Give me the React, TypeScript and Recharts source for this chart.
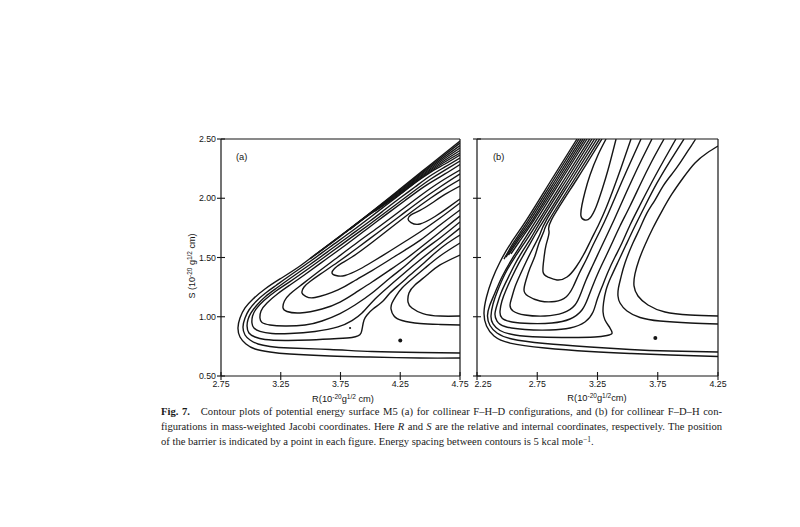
import React from "react";
import { ScatterChart, Scatter, XAxis, YAxis, ReferenceLine } from "recharts";

type Pt = [number, number];

const INK = "#151515";

// tick values
const ticksA = [2.75, 3.25, 3.75, 4.25, 4.75];
const ticksB = [2.25, 2.75, 3.25, 3.75, 4.25];
const ticksS = [0.5, 1.0, 1.5, 2.0, 2.5];

// ---- panel (a): collinear F-H-D, contours as [R, S] ----
const aC1: Pt[] = [[4.75,2.483],[4.499,2.281],[4.248,2.078],[3.997,1.876],[3.746,1.681],[3.578,1.555],[3.411,1.428],[3.244,1.319],[3.118,1.234],[3.018,1.15],[2.951,1.074],[2.909,0.989],[2.892,0.905],[2.909,0.829],[2.959,0.77],[3.035,0.728],[3.16,0.703],[3.327,0.686],[3.662,0.669],[3.997,0.66],[4.415,0.652],[4.75,0.652]];
const aW1: Pt[] = [[4.75,2.466],[4.499,2.27],[4.248,2.07],[3.997,1.873],[3.746,1.679],[3.495,1.489]];
const aW2: Pt[] = [[4.75,2.445],[4.499,2.259],[4.248,2.061],[3.997,1.871],[3.746,1.676],[3.537,1.521]];
const aW3: Pt[] = [[4.75,2.424],[4.499,2.247],[4.248,2.053],[3.997,1.867],[3.788,1.709]];
const aW4: Pt[] = [[4.75,2.403],[4.499,2.236],[4.248,2.044],[3.997,1.865],[3.83,1.737]];
const aW5: Pt[] = [[4.75,2.382],[4.499,2.226],[4.248,2.036],[4.039,1.892]];
const aC2: Pt[] = [[4.75,2.365],[4.624,2.289],[4.499,2.217],[4.373,2.129],[4.248,2.032],[4.122,1.935],[3.997,1.838],[3.83,1.711],[3.662,1.589],[3.495,1.466],[3.327,1.348],[3.21,1.264],[3.118,1.196],[3.043,1.129],[2.984,1.057],[2.951,0.989],[2.934,0.914],[2.951,0.846],[2.993,0.804],[3.06,0.77],[3.16,0.749],[3.327,0.736],[3.662,0.724],[4.014,0.707],[4.415,0.698],[4.75,0.694]];
const aC3: Pt[] = [[4.75,2.34],[4.624,2.264],[4.499,2.188],[4.373,2.095],[4.248,2.002],[4.122,1.905],[3.997,1.808],[3.83,1.686],[3.662,1.563],[3.495,1.441],[3.327,1.323],[3.21,1.238],[3.118,1.167],[3.051,1.099],[3.001,1.032],[2.976,0.977],[2.968,0.922],[2.984,0.863],[3.035,0.829],[3.118,0.808],[3.286,0.8],[3.495,0.804],[3.729,0.816],[3.846,0.825],[3.896,0.838],[3.922,0.863],[3.934,0.914],[3.947,0.973],[3.972,1.015],[4.022,1.065],[4.106,1.133],[4.164,1.2],[4.248,1.276],[4.332,1.352],[4.415,1.424],[4.541,1.538],[4.641,1.618],[4.75,1.69]];
const aU4: Pt[] = [[4.75,2.314],[4.624,2.238],[4.499,2.158],[4.332,2.036],[4.164,1.909],[3.997,1.783],[3.83,1.661],[3.662,1.538],[3.495,1.416],[3.327,1.297],[3.21,1.217],[3.11,1.137],[3.043,1.065],[3.014,1.006],[3.009,0.947],[3.026,0.905],[3.076,0.876],[3.177,0.859],[3.327,0.859],[3.537,0.876],[3.729,0.914],[3.846,0.968],[3.93,1.032],[4.039,1.15],[4.164,1.264],[4.29,1.374],[4.415,1.479],[4.583,1.614],[4.75,1.749]];
const aU5: Pt[] = [[4.75,2.285],[4.624,2.205],[4.457,2.103],[4.29,1.981],[4.122,1.855],[3.955,1.728],[3.788,1.601],[3.62,1.479],[3.453,1.357],[3.327,1.268],[3.227,1.196],[3.135,1.116],[3.085,1.049],[3.076,0.989],[3.093,0.951],[3.16,0.93],[3.286,0.922],[3.453,0.93],[3.595,0.964],[3.746,1.027],[3.871,1.099],[4.014,1.2],[4.164,1.327],[4.29,1.428],[4.415,1.538],[4.583,1.665],[4.75,1.8]];
const aU6: Pt[] = [[4.75,2.238],[4.583,2.137],[4.415,2.019],[4.248,1.892],[4.081,1.766],[3.896,1.631],[3.729,1.504],[3.562,1.378],[3.411,1.26],[3.327,1.192],[3.281,1.133],[3.269,1.074],[3.302,1.044],[3.411,1.032],[3.595,1.065],[3.746,1.124],[3.871,1.2],[4.014,1.293],[4.164,1.395],[4.29,1.483],[4.415,1.58],[4.583,1.715],[4.75,1.85]];
const aU7: Pt[] = [[4.75,2.205],[4.583,2.095],[4.415,1.977],[4.248,1.85],[4.081,1.724],[3.896,1.584],[3.729,1.462],[3.578,1.357],[3.495,1.297],[3.445,1.251],[3.428,1.2],[3.461,1.171],[3.537,1.162],[3.729,1.226],[3.871,1.306],[4.014,1.39],[4.164,1.483],[4.29,1.563],[4.415,1.644],[4.583,1.774],[4.75,1.901]];
const aU8: Pt[] = [[4.75,2.158],[4.624,2.082],[4.499,1.998],[4.332,1.876],[4.164,1.745],[3.997,1.614],[3.846,1.504],[3.754,1.449],[3.7,1.407],[3.679,1.369],[3.712,1.348],[3.788,1.348],[3.913,1.403],[4.014,1.462],[4.164,1.555],[4.29,1.635],[4.415,1.715],[4.583,1.833],[4.75,1.96]];
const aU9: Pt[] = [[4.75,2.103],[4.624,2.032],[4.516,1.96],[4.415,1.897],[4.34,1.859],[4.315,1.825],[4.34,1.795],[4.415,1.783],[4.541,1.846],[4.641,1.914],[4.75,1.994]];
const aU1: Pt[] = [[4.75,1.622],[4.583,1.513],[4.457,1.411],[4.348,1.319],[4.265,1.243],[4.214,1.175],[4.181,1.116],[4.173,1.065],[4.198,1.006],[4.265,0.968],[4.415,0.943],[4.583,0.935],[4.75,0.93]];
const aU2: Pt[] = [[4.75,1.521],[4.583,1.437],[4.474,1.352],[4.373,1.268],[4.323,1.2],[4.315,1.124],[4.348,1.074],[4.44,1.027],[4.583,1.006],[4.75,1.006]];
const aBarrier: Pt[] = [[4.25, 0.8]];
const aSpeck: Pt[] = [[3.83, 0.905]];

// ---- panel (b): collinear F-D-H ----
const bC1: Pt[] = [[3.08,2.5],[2.867,2.154],[2.66,1.816],[2.532,1.622],[2.441,1.462],[2.374,1.31],[2.329,1.167],[2.308,1.032],[2.329,0.922],[2.391,0.838],[2.524,0.778],[2.814,0.736],[3.188,0.707],[3.52,0.69],[3.852,0.677],[4.25,0.665]];
const bW1: Pt[] = [[3.096,2.5],[2.884,2.154],[2.677,1.816],[2.557,1.631],[2.474,1.487]];
const bW2: Pt[] = [[3.113,2.5],[2.901,2.154],[2.693,1.816],[2.57,1.631],[2.491,1.504]];
const bW3: Pt[] = [[3.13,2.5],[2.917,2.154],[2.71,1.816],[2.582,1.631],[2.511,1.521]];
const bW4: Pt[] = [[3.146,2.5],[2.934,2.154],[2.723,1.816],[2.599,1.631],[2.532,1.53]];
const bC2: Pt[] = [[3.163,2.5],[2.95,2.154],[2.743,1.816],[2.64,1.648],[2.54,1.487],[2.457,1.335],[2.395,1.192],[2.354,1.091],[2.337,1.006],[2.358,0.926],[2.416,0.863],[2.54,0.812],[2.814,0.774],[3.188,0.745],[3.52,0.724],[3.852,0.711],[4.25,0.703]];
const bC3: Pt[] = [[3.184,2.5],[2.972,2.154],[2.765,1.816],[2.665,1.656],[2.565,1.504],[2.482,1.361],[2.42,1.217],[2.383,1.108],[2.366,1.006],[2.383,0.939],[2.441,0.884],[2.565,0.846],[2.773,0.829],[3.022,0.825],[3.229,0.829],[3.329,0.842],[3.37,0.859],[3.354,0.905],[3.312,0.973],[3.296,1.04],[3.3,1.116],[3.321,1.226],[3.362,1.335],[3.42,1.462],[3.486,1.605],[3.561,1.766],[3.644,1.935],[3.744,2.129],[3.852,2.314],[3.968,2.5]];
const bU4: Pt[] = [[3.204,2.5],[2.992,2.154],[2.784,1.816],[2.698,1.665],[2.623,1.546],[2.557,1.428],[2.499,1.31],[2.449,1.2],[2.416,1.099],[2.399,1.023],[2.416,0.964],[2.482,0.918],[2.648,0.892],[2.856,0.888],[3.022,0.905],[3.146,0.956],[3.213,1.04],[3.246,1.141],[3.287,1.251],[3.337,1.378],[3.395,1.504],[3.453,1.622],[3.52,1.774],[3.603,1.943],[3.702,2.137],[3.802,2.323],[3.901,2.5]];
const bU5: Pt[] = [[3.225,2.5],[3.013,2.154],[2.806,1.816],[2.731,1.69],[2.665,1.572],[2.599,1.454],[2.54,1.335],[2.491,1.226],[2.457,1.133],[2.441,1.049],[2.457,0.989],[2.54,0.956],[2.69,0.943],[2.872,0.947],[3.022,0.981],[3.121,1.057],[3.171,1.158],[3.213,1.268],[3.262,1.386],[3.321,1.513],[3.379,1.639],[3.437,1.766],[3.52,1.935],[3.611,2.129],[3.702,2.314],[3.802,2.5]];
const bU6: Pt[] = [[3.246,2.5],[3.033,2.154],[2.826,1.816],[2.773,1.698],[2.715,1.58],[2.657,1.462],[2.607,1.352],[2.565,1.251],[2.54,1.167],[2.524,1.099],[2.549,1.049],[2.648,1.015],[2.814,1.006],[2.964,1.032],[3.063,1.099],[3.113,1.2],[3.155,1.31],[3.204,1.42],[3.262,1.546],[3.321,1.673],[3.387,1.816],[3.461,1.985],[3.544,2.171],[3.619,2.331],[3.702,2.5]];
const bU7: Pt[] = [[3.267,2.5],[3.055,2.154],[2.848,1.816],[2.806,1.724],[2.765,1.622],[2.731,1.513],[2.69,1.411],[2.657,1.31],[2.64,1.226],[2.673,1.175],[2.773,1.133],[2.897,1.129],[2.989,1.167],[3.047,1.251],[3.096,1.361],[3.155,1.479],[3.213,1.605],[3.271,1.724],[3.337,1.867],[3.412,2.044],[3.495,2.238],[3.611,2.5]];
const bU8: Pt[] = [[3.287,2.5],[3.075,2.154],[2.867,1.816],[2.848,1.715],[2.823,1.605],[2.806,1.496],[2.798,1.378],[2.839,1.335],[2.914,1.31],[2.997,1.335],[3.072,1.42],[3.138,1.53],[3.196,1.648],[3.262,1.783],[3.321,1.918],[3.379,2.07],[3.445,2.255],[3.528,2.5]];
const bU9: Pt[] = [[3.321,2.5],[3.254,2.365],[3.188,2.196],[3.146,2.053],[3.121,1.943],[3.113,1.85],[3.146,1.816],[3.188,1.833],[3.238,1.926],[3.287,2.07],[3.337,2.238],[3.404,2.5]];
const bU1: Pt[] = [[4.25,0.939],[4.018,0.947],[3.769,0.964],[3.603,0.994],[3.495,1.049],[3.437,1.116],[3.42,1.175],[3.424,1.243],[3.445,1.335],[3.478,1.454],[3.544,1.622],[3.603,1.749],[3.661,1.876],[3.727,1.985],[3.794,2.103],[3.868,2.205],[3.935,2.298],[4.043,2.466],[4.068,2.5]];
const bU2: Pt[] = [[4.25,1.006],[4.018,1.015],[3.81,1.04],[3.669,1.099],[3.586,1.175],[3.553,1.26],[3.561,1.361],[3.594,1.479],[3.644,1.605],[3.71,1.749],[3.785,1.892],[3.868,2.036],[3.96,2.171],[4.059,2.298],[4.159,2.382],[4.25,2.441]];
const bBarrier: Pt[] = [[3.73, 0.82]];

const contoursA = [aC1, aW1, aW2, aW3, aW4, aW5, aC2, aC3, aU4, aU5, aU6, aU7, aU8, aU9, aU1, aU2];
const contoursB = [bC1, bW1, bW2, bW3, bW4, bC2, bC3, bU4, bU5, bU6, bU7, bU8, bU9, bU1, bU2];

const toRows = (pts: Pt[]) => pts.map(([r, s]) => ({ r, s }));
const NoMark = () => <g />;
const Dot = (size: number) => (p: any) => <circle cx={p.cx} cy={p.cy} r={size} fill={INK} />;

const axisFont = { fontFamily: "'Liberation Sans', Arial, sans-serif", fontSize: 8.8, fill: INK };

function XTick(props: any) {
  const { x, y, payload, index, nudgeFirst } = props;
  // in panel (b) the first label sits just right of the corner, clear of "4.75"
  const dx = nudgeFirst && index === 0 ? 6 : 0;
  return (
    <g>
      <line x1={x} x2={x} y1={y - 4} y2={y + 4} stroke={INK} strokeWidth={1.1} />
      <text x={x + dx} y={y + 11} textAnchor="middle" {...axisFont}>
        {Number(payload.value).toFixed(2)}
      </text>
    </g>
  );
}

function YTick(props: any) {
  const { x, y, payload, labelled } = props;
  return (
    <g>
      <line x1={x - 4} x2={x + 4} y1={y} y2={y} stroke={INK} strokeWidth={1.1} />
      {labelled && (
        <text x={x - 5} y={y + 3.2} textAnchor="end" {...axisFont}>
          {Number(payload.value).toFixed(2)}
        </text>
      )}
    </g>
  );
}

type PanelProps = {
  left: number;
  width: number;
  marginLeft: number;
  yWidth: number;
  marginRight: number;
  xTicks: number[];
  contours: Pt[][];
  barrier: Pt[];
  speck?: Pt[];
  yLabels: boolean;
  nudgeFirst?: boolean;
};

function Panel({ left, width, marginLeft, yWidth, marginRight, xTicks, contours, barrier, speck, yLabels, nudgeFirst }: PanelProps) {
  const x0 = xTicks[0];
  const x1 = xTicks[xTicks.length - 1];
  return (
    <div style={{ position: "absolute", left, top: 120 }}>
      <ScatterChart width={width} height={290} margin={{ top: 19, right: marginRight, bottom: 4, left: marginLeft }}>
        <XAxis
          type="number"
          dataKey="r"
          domain={[x0, x1]}
          ticks={xTicks}
          interval={0}
          allowDataOverflow
          height={30}
          tickSize={0}
          tickMargin={0}
          tickLine={false}
          axisLine={{ stroke: INK, strokeWidth: 1.2 }}
          tick={<XTick nudgeFirst={nudgeFirst} />}
        />
        <YAxis
          type="number"
          dataKey="s"
          domain={[0.5, 2.5]}
          ticks={ticksS}
          interval={0}
          allowDataOverflow
          width={yWidth}
          tickSize={0}
          tickMargin={0}
          tickLine={false}
          axisLine={{ stroke: INK, strokeWidth: 1.2 }}
          tick={<YTick labelled={yLabels} />}
        />
        <ReferenceLine y={2.5} stroke={INK} strokeWidth={1.2} />
        <ReferenceLine x={x1} stroke={INK} strokeWidth={1.2} />
        {contours.map((c, i) => (
          <Scatter
            key={i}
            data={toRows(c)}
            fill={INK}
            line={{ stroke: INK, strokeWidth: 1.4 }}
            lineType="joint"
            lineJointType="natural"
            shape={NoMark}
            isAnimationActive={false}
          />
        ))}
        <Scatter data={toRows(barrier)} fill={INK} shape={Dot(2)} isAnimationActive={false} />
        {speck && <Scatter data={toRows(speck)} fill={INK} shape={Dot(1.1)} isAnimationActive={false} />}
      </ScatterChart>
    </div>
  );
}

const small: React.CSSProperties = {
  position: "absolute",
  fontFamily: "'Liberation Sans', Arial, sans-serif",
  fontSize: 9.3,
  color: INK,
  whiteSpace: "nowrap",
  lineHeight: "11px",
};
const sup: React.CSSProperties = { fontSize: 6.5, verticalAlign: "top", lineHeight: "7px", position: "relative", top: -1 };

const cap: React.CSSProperties = {
  position: "absolute",
  left: 161,
  width: 561,
  fontFamily: "'Liberation Serif', 'Times New Roman', serif",
  fontSize: 10.6,
  color: "#1a1a1a",
  whiteSpace: "nowrap",
  lineHeight: "13px",
};

export default function App() {
  return (
    <div style={{ position: "absolute", left: 0, top: 0, width: 800, height: 527, background: "#fff", overflow: "hidden" }}>
      <Panel
        left={150}
        width={330}
        marginLeft={31}
        yWidth={40}
        marginRight={20}
        xTicks={ticksA}
        contours={contoursA}
        barrier={aBarrier}
        speck={aSpeck}
        yLabels
      />
      <Panel
        left={465}
        width={275}
        marginLeft={2}
        yWidth={10}
        marginRight={22}
        xTicks={ticksB}
        contours={contoursB}
        barrier={bBarrier}
        yLabels={false}
        nudgeFirst
      />
      <div style={{ ...small, left: 236, top: 152 }}>(a)</div>
      <div style={{ ...small, left: 493, top: 152 }}>(b)</div>
      <div style={{ ...small, fontSize: 9, left: 192, top: 266, transform: "translate(-50%, -50%) rotate(-90deg)" }}>
        S (10<span style={sup}>-20</span> g<span style={sup}>1/2</span> cm)
      </div>
      <div style={{ ...small, left: 343, top: 394, transform: "translateX(-50%)" }}>
        R(10<span style={sup}>-20</span>g<span style={sup}>1/2</span> cm)
      </div>
      <div style={{ ...small, left: 597, top: 393, transform: "translateX(-50%)" }}>
        R(10<span style={sup}>-20</span>g<span style={sup}>1/2</span>cm)
      </div>
      <div style={{ ...cap, top: 405, textAlign: "justify", textAlignLast: "justify" }}>
        <b>Fig. 7.</b>&nbsp;&nbsp; Contour plots of potential energy surface M5 (a) for collinear F–H–D configurations, and (b) for collinear F–D–H con-
      </div>
      <div style={{ ...cap, top: 420, textAlign: "justify", textAlignLast: "justify" }}>
        figurations in mass-weighted Jacobi coordinates. Here <i>R</i> and <i>S</i> are the relative and internal coordinates, respectively. The position
      </div>
      <div style={{ ...cap, top: 434.5 }}>
        of the barrier is indicated by a point in each figure. Energy spacing between contours is 5 kcal mole<span style={{ fontSize: 7.5, verticalAlign: "top", position: "relative", top: -2 }}>−1</span>.
      </div>
    </div>
  );
}
